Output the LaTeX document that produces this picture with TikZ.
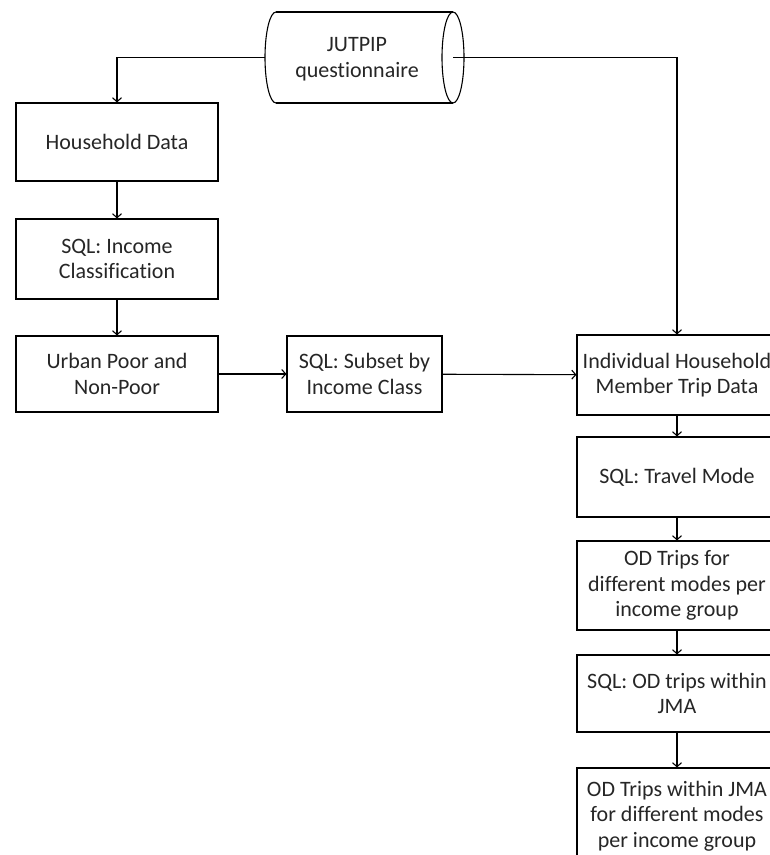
\documentclass[tikz,border=0pt]{standalone}
\usepackage{fontspec}
\setmainfont{Carlito}[Ligatures=NoCommon]
\usetikzlibrary{arrows.meta}
\begin{document}
\begin{tikzpicture}[x=1pt,y=-1pt,
  font=\fontsize{22}{25.5}\selectfont,
  every node/.style={text=black!85},
  box/.style={draw=black, line width=1.1pt, align=center, inner sep=0pt},
  arr/.style={draw=black, line width=1.1pt, -{Straight Barb[length=4pt,width=9pt]}}]
  \path[use as bounding box, clip] (0,0) rectangle (770,855);

  % data source drum
  \draw[line width=1.1pt] (276,12) -- (453,12) (276,103) -- (453,103);
  \draw[line width=1.1pt] (276,12) arc[start angle=90, end angle=270, x radius=11pt, y radius=45.5pt];
  \draw[line width=1.1pt] (453,57.5) ellipse[x radius=11pt, y radius=45.5pt];
  \node[align=center] (jutpip) at (357,59) {JUTPIP\\questionnaire};
  \coordinate (jl) at (265,57.5);
  \coordinate (jr) at (453,57.5);

  % left column
  \node[box, minimum width=202pt, minimum height=78pt] (hh) at (117,142) {Household Data};
  \node[box, minimum width=202pt, minimum height=80pt] (inc) at (117,259) {SQL: Income\\Classification};
  \node[box, minimum width=202pt, minimum height=76pt] (poor) at (117,374) {Urban Poor and\\Non-Poor};

  % middle
  \node[box, minimum width=155pt, minimum height=76pt] (sub) at (364.5,374) {SQL: Subset by\\Income Class};

  % right column
  \node[box, minimum width=200pt, minimum height=80pt] (ind) at (677,375) {Individual Household\\Member Trip Data};
  \node[box, minimum width=200pt, minimum height=80pt] (mode) at (677,477) {SQL: Travel Mode};
  \node[box, minimum width=200pt, minimum height=89pt] (od) at (677,585.5) {OD Trips for\\different modes per\\income group};
  \node[box, minimum width=200pt, minimum height=77pt] (jma) at (677,693.5) {SQL: OD trips within\\JMA};
  \node[box, minimum width=200pt, minimum height=96pt] (fin) at (677,816) {OD Trips within JMA\\for different modes\\per income group};

  % connectors
  \draw[arr] (jl) -| (hh.north);
  \draw[arr] (jr) -| (ind.north);
  \draw[arr] (hh) -- (inc);
  \draw[arr] (inc) -- (poor);
  \draw[arr] (poor) -- (sub);
  \draw[arr] (sub) -- (ind);
  \draw[arr] (ind) -- (mode);
  \draw[arr] (mode) -- (od);
  \draw[arr] (od) -- (jma);
  \draw[arr] (jma) -- (fin);
\end{tikzpicture}
\end{document}
